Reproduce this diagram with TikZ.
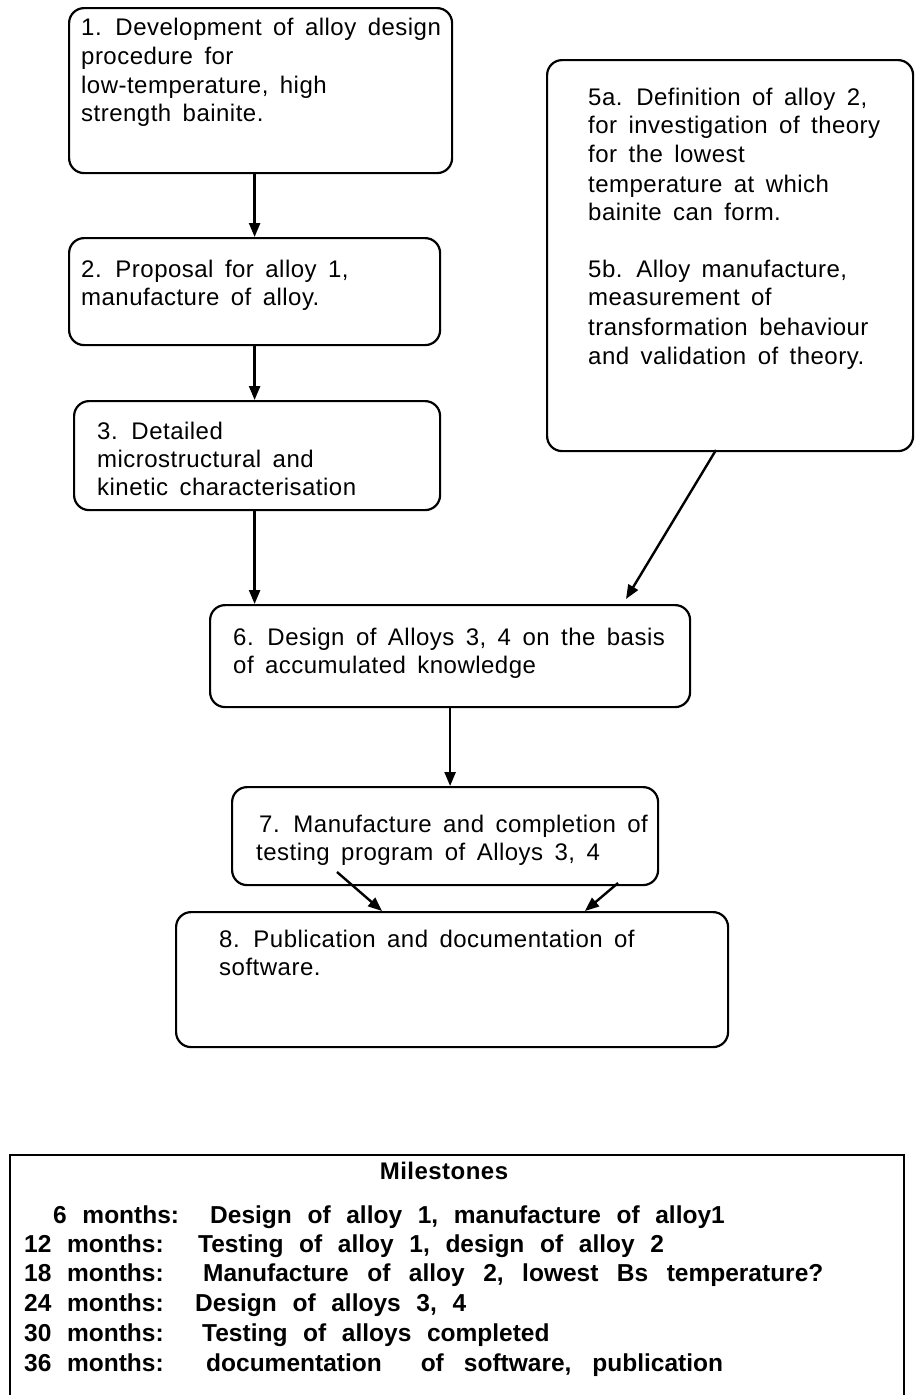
\documentclass[tikz,border=0pt]{standalone}
\usepackage{fontspec}
\setmainfont[WordSpace=1.6,LetterSpace=2]{Liberation Sans}
\newfontfamily\msfont[WordSpace=2.3]{Liberation Sans}
\usetikzlibrary{arrows.meta}
\tikzset{
  box/.style={draw, line width=2.2pt, rounded corners=15pt, inner sep=0pt, anchor=north west},
  txt/.style={anchor=base west, inner sep=0pt, font=\fontsize{24}{29}\selectfont},
  mtxt/.style={anchor=base west, inner sep=0pt, font=\msfont\bfseries\fontsize{24.5}{29}\selectfont},
  arr/.style={-{Triangle[length=14pt,width=11pt]}, line width=2.4pt},
}
\begin{document}
\begin{tikzpicture}[x=1pt,y=-1pt]
\useasboundingbox (0,0) rectangle (914,1395);
\clip (0,0) rectangle (914,1395);
% boxes
\node[box, minimum width=383pt, minimum height=165pt] (b1) at (68,7) {};
\node[box, minimum width=371pt, minimum height=107pt] (b2) at (68,237) {};
\node[box, minimum width=366pt, minimum height=109pt] (b3) at (73,400) {};
\node[box, minimum width=366pt, minimum height=391pt] (b5) at (546,59) {};
\node[box, minimum width=480pt, minimum height=102pt] (b6) at (209,604) {};
\node[box, minimum width=426pt, minimum height=98pt] (b7) at (231,786) {};
\node[box, minimum width=552pt, minimum height=135pt] (b8) at (175,911) {};
% texts
\node[txt] (t1a) at (81,35) {1. Development of alloy design};
\node[txt] (t1b) at (81,64) {procedure for};
\node[txt] (t1c) at (81,93) {low-temperature, high};
\node[txt] (t1d) at (81,121) {strength bainite.};
\node[txt] (t2a) at (81,277) {2. Proposal for alloy 1,};
\node[txt] (t2b) at (81,305) {manufacture of alloy.};
\node[txt] (t3a) at (97,439) {3. Detailed};
\node[txt] (t3b) at (97,467) {microstructural and};
\node[txt] (t3c) at (97,495) {kinetic characterisation};
\node[txt] (t5a) at (588,105) {5a. Definition of alloy 2,};
\node[txt] (t5b) at (588,133) {for investigation of theory};
\node[txt] (t5c) at (588,162) {for the lowest};
\node[txt] (t5d) at (588,192) {temperature at which};
\node[txt] (t5e) at (588,220) {bainite can form.};
\node[txt] (t5f) at (588,277) {5b. Alloy manufacture,};
\node[txt] (t5g) at (588,305) {measurement of};
\node[txt] (t5h) at (588,335) {transformation behaviour};
\node[txt] (t5i) at (588,364) {and validation of theory.};
\node[txt] (t6a) at (233,645) {6. Design of Alloys 3, 4 on the basis};
\node[txt] (t6b) at (233,673) {of accumulated knowledge};
\node[txt] (t7a) at (259,832) {7. Manufacture and completion of};
\node[txt] (t7b) at (256,860) {testing program of Alloys 3, 4};
\node[txt] (t8a) at (219,947) {8. Publication and documentation of};
\node[txt] (t8b) at (219,975) {s\hspace{0.5pt}o\hspace{0.5pt}f\hspace{0.5pt}t\hspace{0.5pt}w\hspace{0.5pt}a\hspace{0.5pt}r\hspace{0.5pt}e.};
% connectors
\draw[arr] (b1.south -| b2.north) -- (b2.north);
\draw[arr] (b2.south) -- (b2.south |- b3.north);
\draw[arr] (b3.south -| b2.south) -- (b6.north -| b2.south);
\coordinate (a5s) at (716,450);
\coordinate (a6t) at (626,599);
\draw[arr] (a5s) -- (a6t);
\draw[arr] (b6.south) -- (b6.south |- b7.north);
\coordinate (a7l) at (337,872);
\coordinate (a8l) at (382,911);
\coordinate (a7r) at (618,883);
\coordinate (a8r) at (585,911);
\draw[arr] (a7l) -- (a8l);
\draw[arr] (a7r) -- (a8r);
% milestones
\node[draw, line width=2.2pt, inner sep=0pt, anchor=north west, minimum width=894pt, minimum height=260pt] (ms) at (9,1154) {};
\node[anchor=base, inner sep=0pt, font=\bfseries\fontsize{24}{29}\selectfont] (mt) at (444,1179) {Milestones};
\node[mtxt] (m1l) at (53,1223) {6 months:};
\node[mtxt] (m1d) at (210,1223) {Design of alloy 1, manufacture of alloy1};
\node[mtxt] (m2l) at (24,1252) {12 months:};
\node[mtxt] (m2d) at (198,1252) {Testing of alloy 1, design of alloy 2};
\node[mtxt] (m3l) at (24,1281) {18 months:};
\node[mtxt] (m3d) at (203,1281) {\spaceskip=18.5pt Manufacture of alloy 2, lowest Bs temperature?};
\node[mtxt] (m4l) at (24,1311) {24 months:};
\node[mtxt] (m4d) at (195,1311) {Design of alloys 3, 4};
\node[mtxt] (m5l) at (24,1341) {30 months:};
\node[mtxt] (m5d) at (202,1341) {Testing of alloys completed};
\node[mtxt] (m6l) at (24,1371) {36 months:};
\node[mtxt] (m6d) at (206,1371) {documentation\hspace{39pt}of\hspace{20pt}software,\hspace{21pt}publication};
\end{tikzpicture}
\end{document}
